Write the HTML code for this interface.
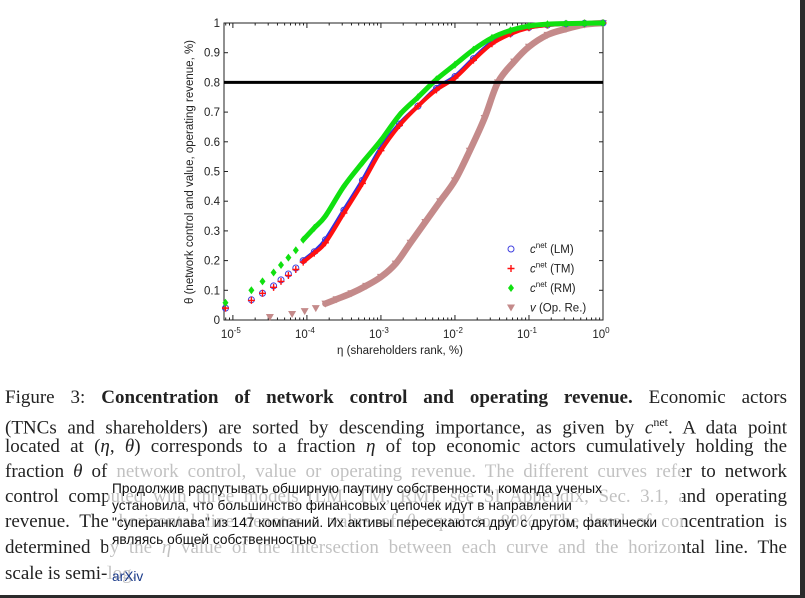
<!DOCTYPE html>
<html><head><meta charset="utf-8">
<style>
body{margin:0;width:805px;height:598px;background:#fff;position:relative;overflow:hidden;font-family:"Liberation Sans",sans-serif}
#chart{position:absolute;left:0;top:0}
.cap{position:absolute;left:5px;width:782px;font-family:"Liberation Serif",serif;font-size:19px;color:#222;text-align:justify;text-align-last:justify;white-space:nowrap;line-height:22px}
.cap.last{text-align-last:left}
#fade{position:absolute;left:108px;top:462px;width:574px;height:128px;background:rgba(255,255,255,0.72)}
.ov{position:absolute;left:112px;font-family:"Liberation Sans","Noto Sans CJK SC",sans-serif;font-size:14px;color:#111;white-space:nowrap;transform:scaleX(0.98);transform-origin:left top;line-height:16px}
#rbar{position:absolute;left:800px;top:0;width:5px;height:598px;background:#2b2b2b}
#bbar{position:absolute;left:0;top:595px;width:805px;height:3px;background:#2b2b2b}
</style></head><body>
<svg id="chart" width="805" height="370" viewBox="0 0 805 370" font-family="Liberation Sans, sans-serif"></svg>

<div class="cap" style="top:387px">Figure 3: <b>Concentration of network control and operating revenue.</b> Economic actors</div>
<div class="cap" style="top:411px">(TNCs and shareholders) are sorted by descending importance, as given by <i>c</i><sup style="font-size:12px">net</sup>. A data point</div>
<div class="cap" style="top:436px">located at (<i>η</i>, <i>θ</i>) corresponds to a fraction <i>η</i> of top economic actors cumulatively holding the</div>
<div class="cap" style="top:461px">fraction <i>θ</i> of network control, value or operating revenue. The different curves refer to network</div>
<div class="cap" style="top:486px">control computed with three models (LM, TM, RM), see SI Appendix, Sec. 3.1, and operating</div>
<div class="cap" style="top:511px">revenue. The horizontal line denotes a value of <i>θ</i> equal to 80%. The level of concentration is</div>
<div class="cap" style="top:537px">determined by the <i>η</i> value of the intersection between each curve and the horizontal line. The</div>
<div class="cap last" style="top:563px">scale is semi-log.</div>

<div id="fade"></div>
<div class="ov" style="top:480px">Продолжив распутывать обширную паутину собственности, команда ученых</div>
<div class="ov" style="top:497px">установила, что большинство финансовых цепочек идут в направлении</div>
<div class="ov" style="top:514px">"суперанклава" из 147 компаний. Их активы пересекаются друг с другом, фактически</div>
<div class="ov" style="top:531px">являясь общей собственностью</div>
<div class="ov" style="top:568px;color:#1a3a8a">arXiv</div>
<div id="rbar"></div>
<div id="bbar"></div>

<script>
const cLogEta = [-5.1,-4.75,-4.6,-4.45,-4.35,-4.25,-4.15,-4.05,-3.9,-3.75,-3.5,-3.25,-3.0,-2.75,-2.5,-2.25,-2.0,-1.75,-1.5,-1.25,-1.0,-0.75,-0.5,-0.25,0];
const lmValues = [0.04,0.068,0.09,0.115,0.135,0.155,0.175,0.2,0.23,0.27,0.37,0.47,0.58,0.66,0.72,0.78,0.82,0.88,0.935,0.965,0.985,0.993,0.997,0.999,1.0];
const tmValues = [0.04,0.066,0.09,0.11,0.13,0.15,0.17,0.195,0.225,0.26,0.36,0.46,0.57,0.655,0.72,0.775,0.815,0.875,0.93,0.963,0.984,0.993,0.997,0.999,1.0];
const rmValues = [0.058,0.10,0.13,0.16,0.185,0.21,0.235,0.27,0.31,0.35,0.45,0.53,0.605,0.69,0.75,0.81,0.86,0.91,0.95,0.975,0.99,0.996,0.998,0.999,1.0];
const vLogEta = [-4.5,-4.2,-4.03,-3.88,-3.75,-3.6,-3.4,-3.2,-3.0,-2.8,-2.6,-2.4,-2.2,-2.0,-1.8,-1.6,-1.42,-1.2,-1.0,-0.75,-0.5,-0.25,0];
const vValues = [0.01,0.02,0.03,0.04,0.055,0.07,0.09,0.115,0.145,0.19,0.26,0.33,0.40,0.47,0.57,0.68,0.8,0.87,0.92,0.96,0.98,0.995,1.0];
const threshold = 0.8;
const yTicks = [0,0.1,0.2,0.3,0.4,0.5,0.6,0.7,0.8,0.9,1];
const yTickLabels = ["0","0.1","0.2","0.3","0.4","0.5","0.6","0.7","0.8","0.9","1"];
const xTickExps = [-5,-4,-3,-2,-1,0];

const NS="http://www.w3.org/2000/svg";
const svg=document.getElementById('chart');
const L=224,R=603,T=23,B=320,XMIN=-5.12,XMAX=0;
const X=l=>L+(l-XMIN)/(XMAX-XMIN)*(R-L);
const Y=v=>B-v*(B-T);
function mk(tag,attrs,parent){const e=document.createElementNS(NS,tag);for(const k in attrs)e.setAttribute(k,attrs[k]);(parent||svg).appendChild(e);return e;}

const frame=mk('rect',{x:L,y:T,width:R-L,height:B-T,fill:'none',stroke:'#222','stroke-width':1});



yTicks.forEach((v,i)=>{
  const t1=mk('line',{x1:L,x2:L+4,y1:Y(v),y2:Y(v),stroke:'#222'});
  
  
  const t2=mk('line',{x1:R-4,x2:R,y1:Y(v),y2:Y(v),stroke:'#222'});
  
  
  const tx=mk('text',{x:L-4,y:Y(v)+4,'text-anchor':'end','font-size':11.5,fill:'#222'});
  tx.textContent=yTickLabels[i];
  
  
});
xTickExps.forEach(e=>{
  [[B,B-5],[T,T+5]].forEach(([a,b])=>{
    const t=mk('line',{x1:X(e),x2:X(e),y1:a,y2:b,stroke:'#222'});
    
    
  });
  for(let m=2;m<10;m++){
    const lx=e-1+Math.log10(m);
    if(lx<XMIN)continue;
    [[B,B-2.5],[T,T+2.5]].forEach(([a,b])=>{
      const t=mk('line',{x1:X(lx),x2:X(lx),y1:a,y2:b,stroke:'#222'});
      
      
    });
  }
  const tx=mk('text',{x:X(e)-2,y:338,'text-anchor':'middle','font-size':11.5,fill:'#222'});
  tx.textContent='10';
  const sp=mk('tspan',{dy:-5,'font-size':8},tx);
  sp.textContent=String(e);
  
  
});
const xt=mk('text',{x:400,y:354,'text-anchor':'middle','font-size':11.5,fill:'#222'});
xt.textContent='η (shareholders rank, %)';


const yt=mk('text',{x:0,y:0,'text-anchor':'middle','font-size':11.5,fill:'#222',transform:'translate(193,172) rotate(-90)'});
yt.textContent='θ (network control and value, operating revenue, %)';



function band(xs,vs,color,w,from,name){
  const p=xs.map((l,i)=>[l,vs[i]]).filter(q=>q[0]>=from).map(q=>[X(q[0]),Y(q[1])]);
  let d='M'+p[0][0]+','+p[0][1];
  for(let i=0;i<p.length-1;i++){
    const p0=p[i-1]||p[i],p1=p[i],p2=p[i+1],p3=p[i+2]||p2;
    const c1=[p1[0]+(p2[0]-p0[0])/6,p1[1]+(p2[1]-p0[1])/6];
    const c2=[p2[0]-(p3[0]-p1[0])/6,p2[1]-(p3[1]-p1[1])/6];
    d+=`C${c1[0]},${c1[1]} ${c2[0]},${c2[1]} ${p2[0]},${p2[1]}`;
  }
  const pl=mk('path',{d:d,fill:'none',stroke:color,'stroke-width':w,'stroke-linejoin':'round','stroke-linecap':'round'});
  
  
}
band(vLogEta,vValues,'#c48a8a',6.5,-3.75,'series-v-band');
vLogEta.forEach((l,i)=>{
  const x=X(l),y=Y(vValues[i]);
  const p=mk('polygon',{points:`${x-4},${y-3} ${x+4},${y-3} ${x},${y+4}`,fill:'#c48a8a'});
  
  
});
band(cLogEta,lmValues,'#3030e0',4,-4.1,'series-lm-band');
cLogEta.forEach((l,i)=>{
  const c=mk('circle',{cx:X(l),cy:Y(lmValues[i]),r:3,fill:'none',stroke:'#4040e0','stroke-width':1});
  
  
});
band(cLogEta,tmValues,'#ff1010',4,-4.1,'series-tm-band');
cLogEta.forEach((l,i)=>{
  const x=X(l),y=Y(tmValues[i]);
  const p=mk('path',{d:`M${x-3.5},${y}H${x+3.5}M${x},${y-3.5}V${y+3.5}`,stroke:'#ff1010','stroke-width':1.4});
  
  
});
band(cLogEta,rmValues,'#10e010',5,-4.1,'series-rm-band');
cLogEta.forEach((l,i)=>{
  const x=X(l),y=Y(rmValues[i]);
  const p=mk('polygon',{points:`${x},${y-4} ${x+3},${y} ${x},${y+4} ${x-3},${y}`,fill:'#10e010'});
  
  
});
const th=mk('line',{x1:L,x2:R,y1:Y(threshold),y2:Y(threshold),stroke:'#000','stroke-width':3});



const lg=mk('g',{});


const entries=[['LM','#4040e0','c'],['TM','#ff1010','p'],['RM','#10e010','d'],['Op. Re.','#c48a8a','t']];
entries.forEach((en,i)=>{
  const y=249+i*19.5,x=511;
  let m;
  if(en[2]==='c')m=mk('circle',{cx:x,cy:y,r:3,fill:'none',stroke:en[1]},lg);
  else if(en[2]==='p')m=mk('path',{d:`M${x-3.5},${y}H${x+3.5}M${x},${y-3.5}V${y+3.5}`,stroke:en[1],'stroke-width':1.4},lg);
  else if(en[2]==='d')m=mk('polygon',{points:`${x},${y-4} ${x+3},${y} ${x},${y+4} ${x-3},${y}`,fill:en[1]},lg);
  else m=mk('polygon',{points:`${x-4},${y-3} ${x+4},${y-3} ${x},${y+4}`,fill:en[1]},lg);
  
  
  const t=mk('text',{x:530,y:y+4,'font-size':11.5,fill:'#222'},lg);
  if(en[2]==='t'){t.innerHTML='<tspan font-style="italic">v</tspan> (Op. Re.)';}
  else{t.innerHTML='<tspan font-style="italic">c</tspan><tspan dy="-5" font-size="8">net</tspan><tspan dy="5"> ('+en[0]+')</tspan>';}
  
  
});
</script>
</body></html>
